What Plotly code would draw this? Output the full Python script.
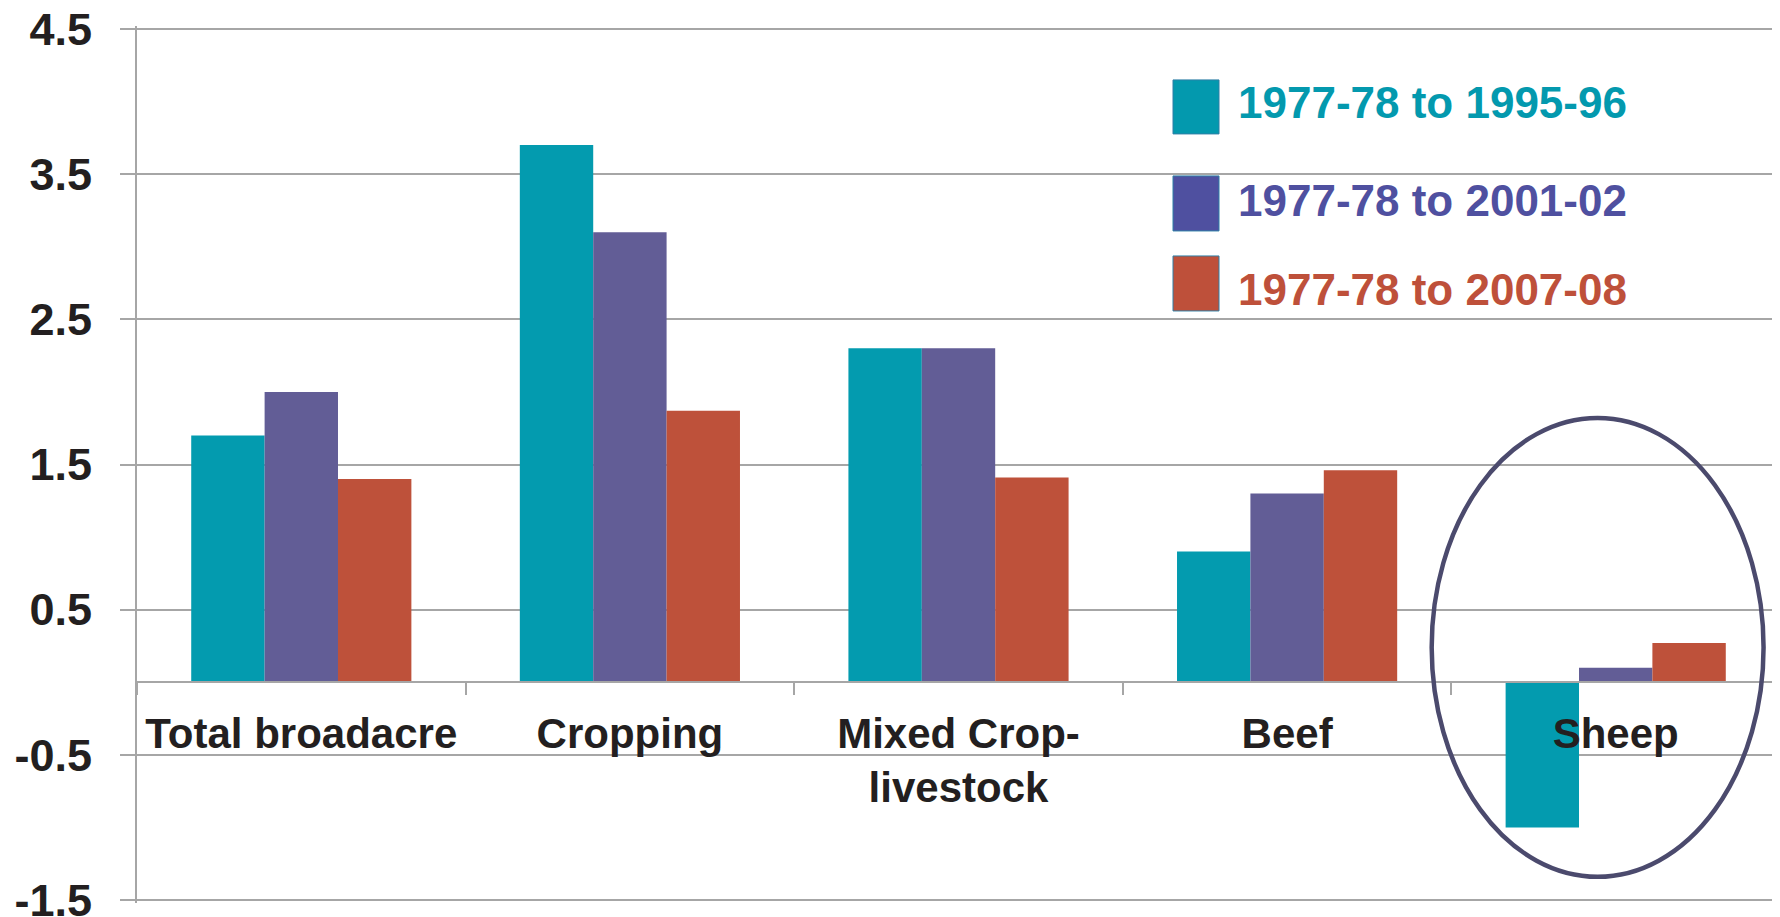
import plotly.graph_objects as go

categories = ["Total broadacre", "Cropping", "Mixed Crop-<br>livestock", "Beef", "Sheep"]
series_names = ["1977-78 to 1995-96", "1977-78 to 2001-02", "1977-78 to 2007-08"]
v_1995 = [1.7, 3.7, 2.3, 0.9, -1.0]
v_2001 = [2.0, 3.1, 2.3, 1.3, 0.1]
v_2007 = [1.4, 1.87, 1.41, 1.46, 0.27]
y_ticks = [-1.5, -0.5, 0.5, 1.5, 2.5, 3.5, 4.5]
y_tick_labels = ["-1.5", "-0.5", "0.5", "1.5", "2.5", "3.5", "4.5"]

bar_colors = ["#039BAF", "#625D96", "#BE513A"]
legend_colors = ["#0399AE", "#4F50A0", "#BE503A"]

# page offset (browser body margin) compensation
OFF = 8
PAGE_W, PAGE_H = 1780, 917
W, H = PAGE_W - OFF, PAGE_H - OFF
y_range = [-1.5, 4.5]
# data span 4.5 -> page y 29, -1.5 -> page y 900
px_per_unit = (900 - 29) / (y_range[1] - y_range[0])
eps = 0.02
eps_px = eps * px_per_unit
ML = 137 - OFF
MT = 29 - OFF - eps_px
MR = 0
MB = H - (900 - OFF + eps_px)
grid_color = "#A6A6A6"
text_color = "#231F20"
font_family = "Liberation Sans, Arial, Helvetica, sans-serif"

fig = go.Figure()
for name, vals, col in zip(series_names, [v_1995, v_2001, v_2007], bar_colors):
    fig.add_trace(go.Bar(x=categories, y=vals, name=name, marker=dict(color=col, line=dict(width=0)),
                         showlegend=False))

pw = W - ML - MR
ph = H - MT - MB


def px_x(px):
    # page pixel -> paper fraction
    return (px - OFF - ML) / pw


def px_y(py):
    return (H - MB - (py - OFF)) / ph


# manual legend (large squares + coloured text)
legend_rows = [(80, 134), (176, 231), (256, 311)]
legend_text_y = [103, 201, 290]
shapes = []
annotations = []
for name, col, (y0, y1), ty in zip(series_names, legend_colors, legend_rows, legend_text_y):
    shapes.append(dict(type="rect", xref="paper", yref="paper",
                       x0=px_x(1173), x1=px_x(1219), y0=px_y(y1), y1=px_y(y0),
                       fillcolor=col, line=dict(color="#2F7FA6", width=1)))
    annotations.append(dict(xref="paper", yref="paper", x=px_x(1236), y=px_y(ty),
                            xanchor="left", yanchor="middle", showarrow=False,
                            text="<b>%s</b>" % name,
                            font=dict(family=font_family, size=44, color=col)))

# ellipse highlighting Sheep
shapes.append(dict(type="circle", xref="x", yref="y", x0=3.44, x1=4.45, y0=-1.34, y1=1.82,
                   line=dict(color="#4B4A6D", width=4.5), fillcolor="rgba(0,0,0,0)", layer="above"))

rng = [y_range[0] - eps, y_range[1] + eps]
zero_pos = (0 - rng[0]) / (rng[1] - rng[0])

fig.update_layout(
    width=W, height=H,
    margin=dict(l=ML, r=MR, t=MT, b=MB, pad=0, autoexpand=False),
    paper_bgcolor="white", plot_bgcolor="white",
    barmode="group", bargap=0.33, bargroupgap=0,
    showlegend=False,
    shapes=shapes, annotations=annotations,
    font=dict(family=font_family, color=text_color),
    xaxis=dict(
        type="category", anchor="free", position=zero_pos, automargin=False,
        showline=True, linecolor=grid_color, linewidth=2,
        ticks="outside", tickson="boundaries", ticklen=12, tickwidth=2, tickcolor=grid_color,
        tickfont=dict(family=font_family, size=42, color=text_color),
        ticklabelstandoff=14,
        showgrid=False, zeroline=False,
    ),
    yaxis=dict(
        range=rng, tickvals=y_ticks, ticktext=["<b>%s</b>" % t for t in y_tick_labels],
        automargin=False,
        showline=True, linecolor=grid_color, linewidth=2,
        showgrid=True, gridcolor=grid_color, gridwidth=2,
        ticks="outside", ticklen=15, tickwidth=2, tickcolor=grid_color,
        tickfont=dict(family=font_family, size=45, color=text_color),
        ticklabelstandoff=19, ticklabeloverflow="allow",
        zeroline=False,
    ),
)
fig.update_xaxes(ticktext=["<b>%s</b>" % c for c in categories], tickvals=categories)

fig.write_html("out.html")
